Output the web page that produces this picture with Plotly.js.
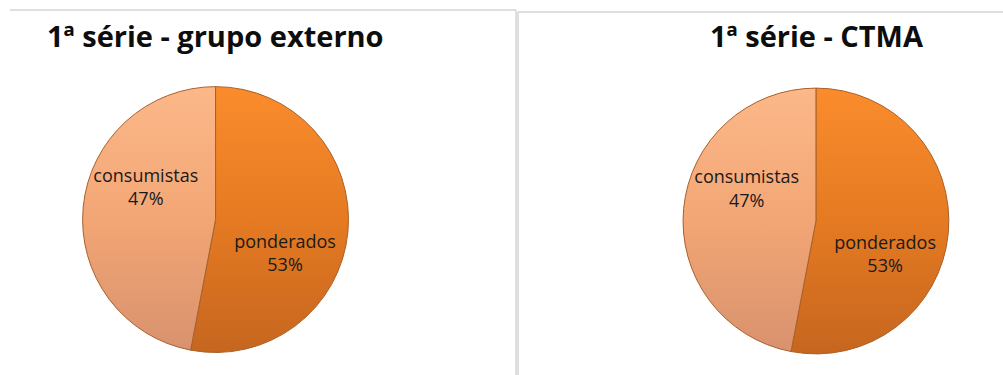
<!DOCTYPE html>
<html>
<head>
<meta charset="utf-8">
<script src="https://cdn.plot.ly/plotly-3.0.1.min.js"></script>
<style>
  html, body { margin: 0; padding: 0; background: #ffffff; }
  #chart { width: 1003px; height: 375px; }
</style>
</head>
<body>
<div id="chart"></div>
<script>
// ---- data ----
const categories = ["ponderados", "consumistas"];
const valuesGrupoExterno = [53, 47];
const valuesCTMA = [53, 47];
const titles = ["1ª série - grupo externo", "1ª série - CTMA"];

// ---- style ----
const labelFont = { family: "Open Sans, sans-serif", size: 18, color: "#1a1a1a" };
const sliceLine = { color: "#A9602A", width: 1 };
const domainLeft = { x: [0.0823, 0.3475], y: [0.060, 0.769] };
const domainRight = { x: [0.681, 0.946], y: [0.056, 0.7653] };
// label layers share the pie centres but are larger, so labels sit further out (like Excel best-fit)
const labelDomainLeft = { x: [0.0613, 0.3684], y: [0.004, 0.8253] };
const labelDomainRight = { x: [0.661, 0.9661], y: [0.0027, 0.8187] };

// visible slices (no text)
function pieSlices(values, domain) {
  return {
    type: "pie",
    labels: categories,
    values: values,
    sort: false,
    direction: "clockwise",
    rotation: 0,
    domain: domain,
    textinfo: "none",
    marker: { colors: ["#E97E26", "#F4A673"], line: sliceLine },
    hoverinfo: "label+percent",
    showlegend: false
  };
}

// label layer: same data, transparent, slightly rotated
function pieLabels(values, domain) {
  return {
    type: "pie",
    labels: categories,
    values: values,
    sort: false,
    direction: "clockwise",
    rotation: 20,
    domain: domain,
    textinfo: "label+percent",
    textposition: "inside",
    insidetextorientation: "horizontal",
    insidetextfont: labelFont,
    texttemplate: "%{label}<br>%{percent:.0%}",
    marker: { colors: ["rgba(0,0,0,0)", "rgba(0,0,0,0)"], line: { width: 0 } },
    hoverinfo: "skip",
    showlegend: false
  };
}

const data = [
  pieSlices(valuesGrupoExterno, domainLeft),
  pieSlices(valuesCTMA, domainRight),
  pieLabels(valuesGrupoExterno, labelDomainLeft),
  pieLabels(valuesCTMA, labelDomainRight)
];

const titleFont = { family: "Open Sans, sans-serif", size: 29, color: "#0d0d0d", weight: 700 };

const layout = {
  width: 1003,
  height: 375,
  margin: { l: 0, r: 0, t: 0, b: 0 },
  paper_bgcolor: "#ffffff",
  plot_bgcolor: "#ffffff",
  showlegend: false,
  annotations: [
    { text: "<b>" + titles[0] + "</b>", xref: "paper", yref: "paper", x: 0.2149, y: 1 - 35 / 375,
      xanchor: "center", yanchor: "middle", showarrow: false, font: titleFont },
    { text: "<b>" + titles[1] + "</b>", xref: "paper", yref: "paper", x: 0.8145, y: 1 - 35 / 375,
      xanchor: "center", yanchor: "middle", showarrow: false, font: titleFont }
  ],
  shapes: [
    { type: "line", xref: "paper", yref: "paper", x0: 10 / 1003, x1: 516 / 1003, y0: 1 - 10 / 375, y1: 1 - 10 / 375,
      line: { color: "#D4D4D4", width: 1.5 } },
    { type: "line", xref: "paper", yref: "paper", x0: 516 / 1003, x1: 516 / 1003, y0: 1 - 10 / 375, y1: 0,
      line: { color: "#D4D4D4", width: 1.5 } },
    { type: "line", xref: "paper", yref: "paper", x0: 518 / 1003, x1: 1, y0: 1 - 12 / 375, y1: 1 - 12 / 375,
      line: { color: "#D4D4D4", width: 1.5 } },
    { type: "line", xref: "paper", yref: "paper", x0: 518 / 1003, x1: 518 / 1003, y0: 1 - 12 / 375, y1: 0,
      line: { color: "#D4D4D4", width: 1.5 } }
  ]
};

Plotly.newPlot("chart", data, layout, { displayModeBar: false, staticPlot: true }).then(function (gd) {
  // apply vertical gradients to the visible slices (Excel-like shading)
  const svg = gd.querySelector("svg.main-svg");
  const ns = "http://www.w3.org/2000/svg";
  let defs = svg.querySelector("defs");
  if (!defs) { defs = document.createElementNS(ns, "defs"); svg.insertBefore(defs, svg.firstChild); }
  const grads = {
    gradPond: ["#FA8C2C", "#E57A22", "#C6661F"],
    gradCons: ["#FCB889", "#F3A675", "#D8926E"]
  };
  Object.keys(grads).forEach(function (id) {
    const g = document.createElementNS(ns, "linearGradient");
    g.setAttribute("id", id);
    g.setAttribute("x1", "0"); g.setAttribute("y1", "0");
    g.setAttribute("x2", "0"); g.setAttribute("y2", "1");
    grads[id].forEach(function (c, i) {
      const s = document.createElementNS(ns, "stop");
      s.setAttribute("offset", String(i / (grads[id].length - 1)));
      s.setAttribute("stop-color", c);
      g.appendChild(s);
    });
    defs.appendChild(g);
  });
  const traces = gd.querySelectorAll("g.pielayer g.trace");
  for (let t = 0; t < 2 && t < traces.length; t++) {
    const paths = traces[t].querySelectorAll("g.slice path.surface");
    if (paths[0]) paths[0].style.fill = "url(#gradPond)";
    if (paths[1]) paths[1].style.fill = "url(#gradCons)";
  }
});
</script>
</body>
</html>
